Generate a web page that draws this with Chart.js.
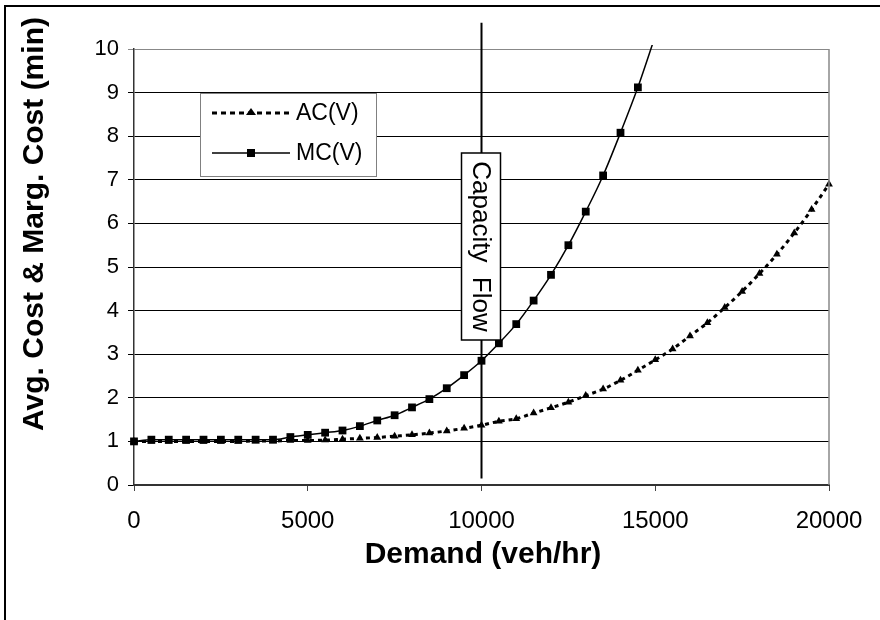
<!DOCTYPE html>
<html>
<head>
<meta charset="utf-8">
<script src="https://cdn.jsdelivr.net/npm/chart.js@4.4.1/dist/chart.umd.min.js"></script>
<style>
  body { margin: 0; background: #fff; }
  canvas { display: block; }
</style>
</head>
<body>
<canvas id="costchart" width="880" height="620"></canvas>
<script>
const demand = [0, 500, 1000, 1500, 2000, 2500, 3000, 3500, 4000, 4500,
  5000, 5500, 6000, 6500, 7000, 7500, 8000, 8500, 9000, 9500,
  10000, 10500, 11000, 11500, 12000, 12500, 13000, 13500, 14000, 14500,
  15000, 15500, 16000, 16500, 17000, 17500, 18000, 18500, 19000, 19500, 20000];

const acCost = [1.0, 1.0, 1.0, 1.0, 1.0, 1.0, 1.0, 1.01, 1.01, 1.02,
  1.02, 1.03, 1.05, 1.07, 1.09, 1.12, 1.15, 1.19, 1.24, 1.3,
  1.37, 1.46, 1.52, 1.65, 1.77, 1.9, 2.05, 2.2, 2.4, 2.63,
  2.87, 3.12, 3.42, 3.72, 4.07, 4.44, 4.85, 5.29, 5.78, 6.32, 6.9];

// MC only runs to 15000, the last point is past the top of the axis
const mcCost = [1.0, 1.04, 1.04, 1.04, 1.04, 1.04, 1.04, 1.04, 1.04, 1.1,
  1.15, 1.2, 1.25, 1.35, 1.48, 1.6, 1.78, 1.97, 2.22, 2.52,
  2.85, 3.25, 3.69, 4.23, 4.82, 5.5, 6.27, 7.1, 8.08, 9.12, 10.3];

const capacityFlow = 10000;
const capacityLine = [0.15, 10.6];

const xTicks = [0, 5000, 10000, 15000, 20000];
const yMax = 10;

const FONT = "'Liberation Sans', Arial, sans-serif";

const ctx = document.getElementById('costchart');

const extras = {
  id: 'extras',
  beforeDraw(chart) {
    const c = chart.ctx;
    c.save();
    c.fillStyle = '#fff';
    c.fillRect(0, 0, chart.width, chart.height);
    c.restore();
  },
  afterDatasetsDraw(chart) {
    const c = chart.ctx;
    const area = chart.chartArea;
    c.save();

    // right border of plot
    c.strokeStyle = '#888';
    c.lineWidth = 1.5;
    c.beginPath();
    c.moveTo(area.right, area.top);
    c.lineTo(area.right, area.bottom);
    c.stroke();

    // legend box
    c.fillStyle = '#fff';
    c.fillRect(200, 93, 176, 83);
    c.strokeStyle = '#808080';
    c.lineWidth = 1;
    c.strokeRect(200.5, 93.5, 176, 83);

    c.strokeStyle = '#000';
    c.fillStyle = '#000';
    c.lineWidth = 3;
    c.setLineDash([5, 4]);
    c.beginPath();
    c.moveTo(212, 113);
    c.lineTo(290, 113);
    c.stroke();
    c.setLineDash([]);
    c.beginPath();
    c.moveTo(251, 108);
    c.lineTo(256, 115);
    c.lineTo(246, 115);
    c.closePath();
    c.fill();

    c.lineWidth = 1.5;
    c.beginPath();
    c.moveTo(212, 153);
    c.lineTo(290, 153);
    c.stroke();
    c.fillRect(247, 149, 8, 8);

    c.font = '23px ' + FONT;
    c.textBaseline = 'middle';
    c.textAlign = 'left';
    c.fillText('AC(V)', 296, 114);
    c.fillText('MC(V)', 296, 154);

    // capacity flow label
    const cx = chart.scales.x.getPixelForValue(capacityFlow);
    c.fillStyle = '#fff';
    c.fillRect(cx - 20, 153, 39, 187);
    c.strokeStyle = '#000';
    c.lineWidth = 1.5;
    c.strokeRect(cx - 20, 153, 39, 187);
    c.translate(cx, 246.5);
    c.rotate(Math.PI / 2);
    c.fillStyle = '#000';
    c.font = '26px ' + FONT;
    c.textAlign = 'center';
    c.textBaseline = 'middle';
    c.fillText('Capacity  Flow', 0, 1);
    c.restore();
  },
  afterDraw(chart) {
    const c = chart.ctx;
    c.save();
    c.fillStyle = '#000';
    c.font = 'bold 30px ' + FONT;
    c.textAlign = 'center';
    c.textBaseline = 'middle';
    c.fillText('Demand (veh/hr)', 483, 555);

    c.translate(35, 224);
    c.rotate(-Math.PI / 2);
    c.font = 'bold 30px ' + FONT;
    c.fillText('Avg. Cost & Marg. Cost (min)', 0, 0);
    c.restore();

    // outer frame (top and left only visible)
    c.save();
    c.strokeStyle = '#000';
    c.lineWidth = 2;
    c.beginPath();
    c.moveTo(5, chart.height);
    c.lineTo(5, 6);
    c.lineTo(chart.width, 6);
    c.stroke();
    c.restore();
  }
};

new Chart(ctx, {
  type: 'line',
  data: {
    datasets: [
      {
        label: 'Capacity Flow',
        data: capacityLine.map(v => ({ x: capacityFlow, y: v })),
        borderColor: '#000',
        borderWidth: 2,
        pointRadius: 0,
        clip: false,
        order: 3
      },
      {
        label: 'AC(V)',
        data: demand.map((d, i) => ({ x: d, y: acCost[i] })),
        borderColor: '#000',
        backgroundColor: '#000',
        borderWidth: 3,
        borderDash: [4, 4],
        pointStyle: 'triangle',
        pointRadius: 4.5,
        pointBorderWidth: 0,
        cubicInterpolationMode: 'monotone',
        clip: 5,
        order: 2
      },
      {
        label: 'MC(V)',
        data: mcCost.map((v, i) => ({ x: demand[i], y: v })),
        borderColor: '#000',
        backgroundColor: '#000',
        borderWidth: 1.5,
        pointStyle: 'rect',
        pointRadius: c => (c.raw && c.raw.y > yMax ? 0 : 5.5),
        pointBorderWidth: 0,
        cubicInterpolationMode: 'monotone',
        clip: { left: 5, top: 4, right: 5, bottom: 5 },
        order: 1
      }
    ]
  },
  options: {
    responsive: false,
    animation: false,
    layout: {
      padding: { left: 0, top: 49, right: 51, bottom: 0 }
    },
    plugins: {
      legend: { display: false },
      tooltip: { enabled: false }
    },
    scales: {
      x: {
        type: 'linear',
        min: 0,
        max: 20000,
        afterBuildTicks: axis => { axis.ticks = xTicks.map(v => ({ value: v })); },
        afterFit: axis => { axis.height = 135; },
        grid: {
          drawOnChartArea: false,
          tickLength: 6,
          color: '#444'
        },
        border: { color: '#333', width: 2 },
        ticks: {
          color: '#000',
          padding: 16,
          maxRotation: 0,
          font: { family: FONT, size: 24 },
          callback: v => String(v)
        }
      },
      y: {
        min: 0,
        max: yMax,
        afterFit: axis => { axis.width = 134; },
        grid: {
          tickLength: 6,
          color: c => (c.tick && c.tick.value === yMax ? '#888' : '#000'),
          lineWidth: 1
        },
        border: { color: '#333', width: 1.5 },
        ticks: {
          stepSize: 1,
          color: '#000',
          padding: 9,
          font: { family: FONT, size: 22 }
        }
      }
    }
  },
  plugins: [extras]
});
</script>
</body>
</html>
